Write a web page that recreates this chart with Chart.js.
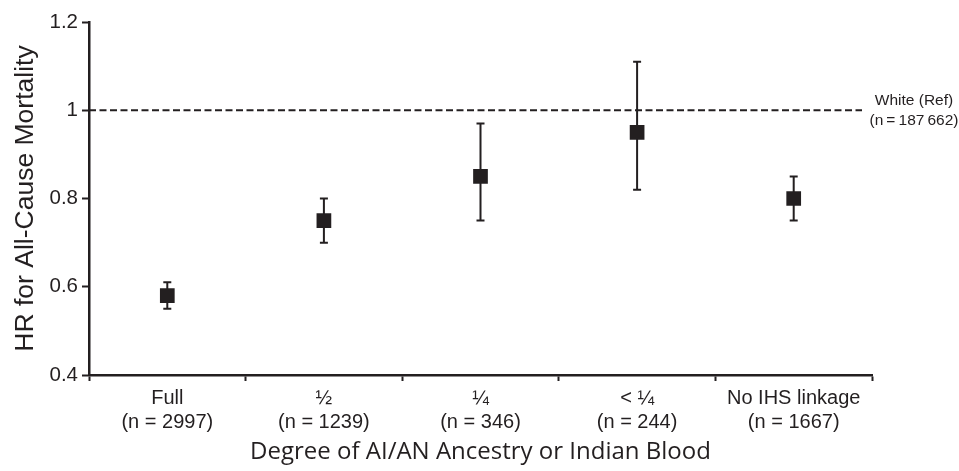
<!DOCTYPE html>
<html lang="en">
<head>
    <meta charset="UTF-8">
    <title>HR for All-Cause Mortality</title>
    <script src="https://cdn.jsdelivr.net/npm/chart.js"></script>
    <style>
        html, body { margin: 0; padding: 0; background: #fff; }
        #wrap { width: 959px; height: 471px; }
    </style>
</head>
<body>
    <div id="wrap">
        <canvas id="hrChart" width="959" height="471"></canvas>
    </div>

    <script>
        // data
        const categories = [
            ['Full', '(n = 2997)'],
            ['\u00BD', '(n = 1239)'],
            ['\u00BC', '(n = 346)'],
            ['< \u00BC', '(n = 244)'],
            ['No IHS linkage', '(n = 1667)']
        ];
        const hr = [0.58, 0.75, 0.85, 0.95, 0.80];
        const lower = [0.55, 0.70, 0.75, 0.82, 0.75];
        const upper = [0.61, 0.80, 0.97, 1.11, 0.85];
        const refValue = 1;
        const refLabel = ['White (Ref)', '(n\u2009=\u2009187\u2009662)'];
        const yTicks = [0.4, 0.6, 0.8, 1, 1.2];

        const ink = '#231f20';

        // error bars (drawn under the squares)
        const errorBars = {
            id: 'errorBars',
            beforeDatasetsDraw(chart) {
                const ctx = chart.ctx;
                const xs = chart.scales.x, ys = chart.scales.y;
                ctx.save();
                ctx.strokeStyle = ink;
                ctx.lineWidth = 2;
                hr.forEach((v, i) => {
                    const x = xs.getPixelForValue(i);
                    const yl = ys.getPixelForValue(lower[i]);
                    const yu = ys.getPixelForValue(upper[i]);
                    ctx.beginPath();
                    ctx.moveTo(x, yl); ctx.lineTo(x, yu);
                    ctx.moveTo(x - 4, yl); ctx.lineTo(x + 4, yl);
                    ctx.moveTo(x - 4, yu); ctx.lineTo(x + 4, yu);
                    ctx.stroke();
                });
                ctx.restore();
            }
        };

        // dashed reference line + label
        const refLine = {
            id: 'refLine',
            beforeDatasetsDraw(chart) {
                const ctx = chart.ctx;
                const area = chart.chartArea;
                const y = chart.scales.y.getPixelForValue(refValue);
                ctx.save();
                ctx.strokeStyle = ink;
                ctx.lineWidth = 2;
                ctx.setLineDash([7, 3.5]);
                ctx.beginPath();
                ctx.moveTo(area.left, y);
                ctx.lineTo(area.right - 10, y);
                ctx.stroke();
                ctx.setLineDash([]);
                ctx.fillStyle = ink;
                ctx.font = '15.5px "Liberation Sans", Arial, sans-serif';
                ctx.textAlign = 'center';
                ctx.textBaseline = 'middle';
                ctx.fillText(refLabel[0], area.right + 42, y - 10);
                ctx.fillText(refLabel[1], area.right + 42, y + 10);
                ctx.restore();
            }
        };

        new Chart(document.getElementById('hrChart'), {
            type: 'line',
            data: {
                labels: categories,
                datasets: [{
                    data: hr,
                    showLine: false,
                    pointStyle: 'rect',
                    pointRadius: 10.4,
                    pointHoverRadius: 10.4,
                    backgroundColor: ink,
                    borderColor: ink,
                    borderWidth: 0
                }]
            },
            options: {
                responsive: false,
                animation: false,
                events: [],
                layout: { padding: { left: 10, right: 87, top: 22, bottom: 0 } },
                plugins: {
                    legend: { display: false },
                    tooltip: { enabled: false }
                },
                scales: {
                    x: {
                        offset: true,
                        grid: {
                            offset: true,
                            drawOnChartArea: false,
                            tickLength: 6,
                            tickWidth: 2,
                            tickColor: ink
                        },
                        border: { color: ink, width: 2.5 },
                        ticks: {
                            color: ink,
                            padding: 5,
                            maxRotation: 0,
                            autoSkip: false,
                            font: { family: '"Liberation Sans", Arial, sans-serif', size: 20, lineHeight: 1.2 }
                        },
                        title: {
                            display: true,
                            text: 'Degree of AI/AN Ancestry or Indian Blood',
                            color: ink,
                            font: { family: '"Open Sans", sans-serif', size: 24 },
                            padding: { top: 0, bottom: 4 }
                        },
                        afterFit(scale) { scale.height = 96; }
                    },
                    y: {
                        min: 0.4,
                        max: 1.2,
                        afterBuildTicks(scale) {
                            scale.ticks = yTicks.map(v => ({ value: v }));
                        },
                        grid: {
                            drawOnChartArea: false,
                            tickLength: 7,
                            tickWidth: 2,
                            tickColor: ink
                        },
                        border: { color: ink, width: 2.5 },
                        ticks: {
                            color: ink,
                            padding: 4,
                            callback: v => String(v),
                            font: { family: '"Liberation Sans", Arial, sans-serif', size: 20.5 }
                        },
                        title: {
                            display: true,
                            text: 'HR for All-Cause Mortality',
                            color: ink,
                            font: { family: '"Liberation Sans", Arial, sans-serif', size: 26.5 },
                            padding: { top: 0, bottom: 2 }
                        },
                        afterFit(scale) { scale.width = 79; }
                    }
                }
            },
            plugins: [errorBars, refLine]
        });
    </script>
</body>
</html>
